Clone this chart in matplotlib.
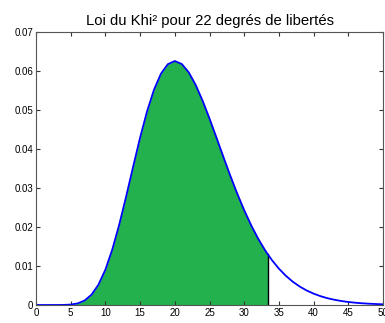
import matplotlib
matplotlib.use("Agg")
import matplotlib.pyplot as plt
from matplotlib.ticker import FuncFormatter

# Chi-square density, 22 degrees of freedom
x_vals = [0, 1, 2, 3, 4, 5, 6, 7, 8, 9, 10, 11, 12, 13, 14, 15, 16, 17, 18, 19,
          20, 21, 22, 23, 24, 25, 26, 27, 28, 29, 30, 31, 32, 33, 33.4, 34, 35,
          36, 37, 38, 39, 40, 41, 42, 43, 44, 45, 46, 47, 48, 49, 50]
density = [0.0, 0.0, 0.00000005, 0.0000018, 0.0000191, 0.000108, 0.000405,
           0.001148, 0.002646, 0.00521, 0.00906, 0.01426, 0.02065, 0.02789,
           0.03549, 0.04291, 0.04963, 0.05519, 0.05929, 0.06175, 0.06256,
           0.06180, 0.05968, 0.05646, 0.05241, 0.04782, 0.04293, 0.03798,
           0.03314, 0.02855, 0.02431, 0.02046, 0.01705, 0.01406, 0.01299,
           0.01150, 0.00932, 0.00749, 0.00597, 0.00473, 0.00372, 0.00291,
           0.00226, 0.00174, 0.00134, 0.00102, 0.000774, 0.000585, 0.000440,
           0.000330, 0.000246, 0.000182]
shade_limit = 33.4

x_ticks = [0, 5, 10, 15, 20, 25, 30, 35, 40, 45, 50]
y_ticks = [0, 0.01, 0.02, 0.03, 0.04, 0.05, 0.06, 0.07]
title = "Loi du Khi² pour 22 degrés de libertés"

plt.rcParams["font.family"] = ["Liberation Sans", "DejaVu Sans"]

fig = plt.figure(figsize=(3.85, 3.23), dpi=100)
ax = fig.add_axes([36 / 385, 18 / 323, 347 / 385, 273 / 323])

sx = [v for v in x_vals if v <= shade_limit]
sy = density[:len(sx)]
ax.fill_between(sx, sy, 0, color="#22b14c", linewidth=0)
ax.plot([shade_limit, shade_limit], [0, sy[-1]], color="black", linewidth=1)
ax.plot(x_vals, density, color="#0000ff", linewidth=1.3)

ax.set_xlim(0, 50)
ax.set_ylim(0, 0.07)
ax.set_xticks(x_ticks)
ax.set_yticks(y_ticks)
ax.yaxis.set_major_formatter(FuncFormatter(lambda v, p: "0" if v == 0 else f"{v:.2f}"))
ax.tick_params(direction="in", length=3, width=0.8, labelsize=7, top=True,
               right=True, pad=2, colors="#333333", labelcolor="black")
for s in ax.spines.values():
    s.set_color("#555555")
    s.set_linewidth(0.8)
ax.set_title(title, fontsize=10.75, pad=5)

fig.savefig("out.png", dpi=100)
